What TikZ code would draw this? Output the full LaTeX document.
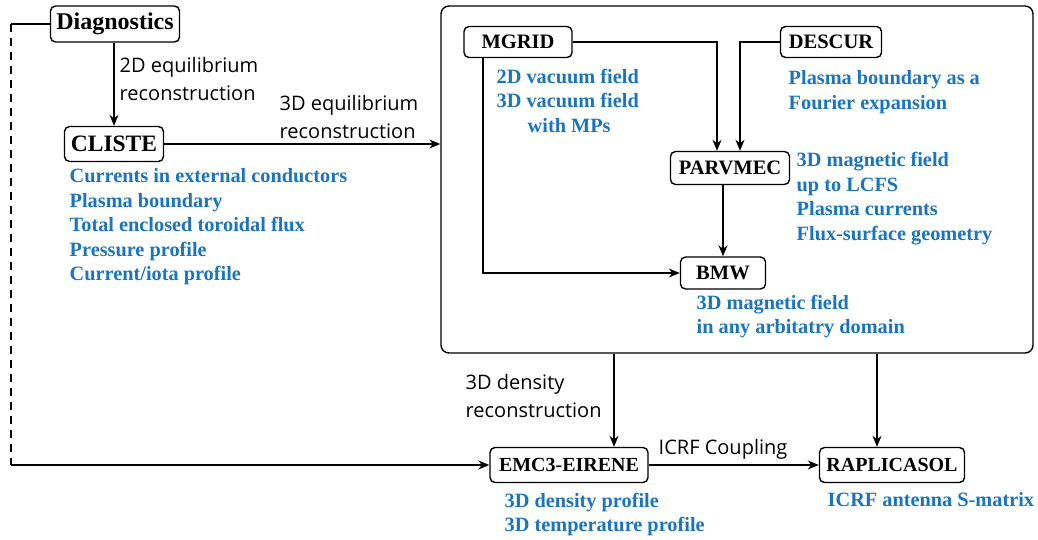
\documentclass[tikz,border=0pt]{standalone}
\usepackage{fontspec}
\setmainfont{Liberation Serif}
\newfontfamily\labfont{Open Sans}
\usetikzlibrary{arrows.meta}
\definecolor{infoblue}{RGB}{27,117,188}
\begin{document}
\begin{tikzpicture}[x=1pt,y=-1pt,
  line width=1.4pt,
  box/.style={draw, rounded corners=5pt, inner sep=0pt, font=\bfseries\fontsize{20.5}{24}\selectfont},
  bigbox/.style={draw, rounded corners=8pt, inner sep=0pt},
  info/.style={inner sep=0pt, anchor=west, align=left, text=infoblue, font=\bfseries\fontsize{20.3}{24.5}\selectfont},
  lab/.style={inner sep=0pt, anchor=west, align=left, font=\labfont\fontsize{20}{27.5}\selectfont},
  arr/.style={-{Stealth[length=11pt,width=9pt]}},
  dsh/.style={dash pattern=on 8pt off 6pt}
]
\useasboundingbox (0,0) rectangle (1038,540);

% nodes
\node[box, minimum width=129pt, minimum height=36pt, font=\bfseries\fontsize{24}{26}\selectfont] (diag) at (115,24) {Diagnostics};
\node[box, minimum width=99pt, minimum height=35pt, font=\bfseries\fontsize{23.5}{26}\selectfont] (cliste) at (114,144) {CLISTE};
\node[bigbox, minimum width=592pt, minimum height=347pt] (big) at (737,179.5) {};
\node[box, minimum width=108pt, minimum height=31pt] (mgrid) at (518,42) {MGRID};
\node[box, minimum width=101pt, minimum height=31pt] (descur) at (831,42) {DESCUR};
\node[box, minimum width=119pt, minimum height=33pt] (parv) at (730,168) {PARVMEC};
\node[box, minimum width=85pt, minimum height=32pt] (bmw) at (723,273) {BMW};
\node[box, minimum width=158pt, minimum height=35pt, font=\bfseries\fontsize{20}{24}\selectfont] (emc) at (569,465) {EMC3-EIRENE};
\node[box, minimum width=145pt, minimum height=35pt, font=\bfseries\fontsize{20}{24}\selectfont] (rap) at (892,465) {RAPLICASOL};

% info texts
\node[info] (iclis) at (69,227) {Currents in external conductors\\Plasma boundary\\Total enclosed toroidal flux\\Pressure profile\\Current/iota profile};
\node[info] (imgrid) at (496,100.5) {2D vacuum field\\3D vacuum field\\\hspace{31pt}with MPs};
\node[info] (idesc) at (788,92) {Plasma boundary as a\\Fourier expansion};
\node[info] (iparv) at (796,198.5) {3D magnetic field\\up to LCFS\\Plasma currents\\Flux-surface geometry};
\node[info] (ibmw) at (696,316.5) {3D magnetic field\\in any arbitatry domain};
\node[info] (iemc) at (504,514.5) {3D density profile\\3D temperature profile};
\node[info] (irap) at (827,500) {ICRF antenna S-matrix};

% edge labels
\node[lab] (l2d) at (119,79) {2D equilibrium\\reconstruction};
\node[lab] (l3d) at (279,117) {3D equilibrium\\reconstruction};
\node[lab] (ldens) at (465,396) {3D density\\reconstruction};
\node[lab] (licrf) at (658,449) {ICRF Coupling};

% connectors
\draw[arr] (diag.south -| cliste.north) -- (cliste.north);
\draw[arr] (cliste.east) -- (big.west |- cliste.east);
\draw[arr] (mgrid.east) -| ([xshift=-13pt]parv.north);
\draw[arr] (descur.west) -| ([xshift=10pt]parv.north);
\draw[arr] (bmw.north |- parv.south) -- (bmw.north);
\draw[arr] ([xshift=-35pt]mgrid.south) |- (bmw.west);
\draw[arr] ([xshift=45pt]emc.north |- big.south) -- ([xshift=45pt]emc.north);
\draw[arr] ([xshift=-15pt]rap.north |- big.south) -- ([xshift=-15pt]rap.north);
\draw[arr] (emc.east) -- (rap.west);

% diagnostics bypass
\coordinate (c1) at (11,24);
\coordinate (c2) at (11,465);
\draw (diag.west) -- (c1);
\draw[dsh] (c1) -- (c2);
\draw[arr] (c2) -- (emc.west);
\end{tikzpicture}
\end{document}
